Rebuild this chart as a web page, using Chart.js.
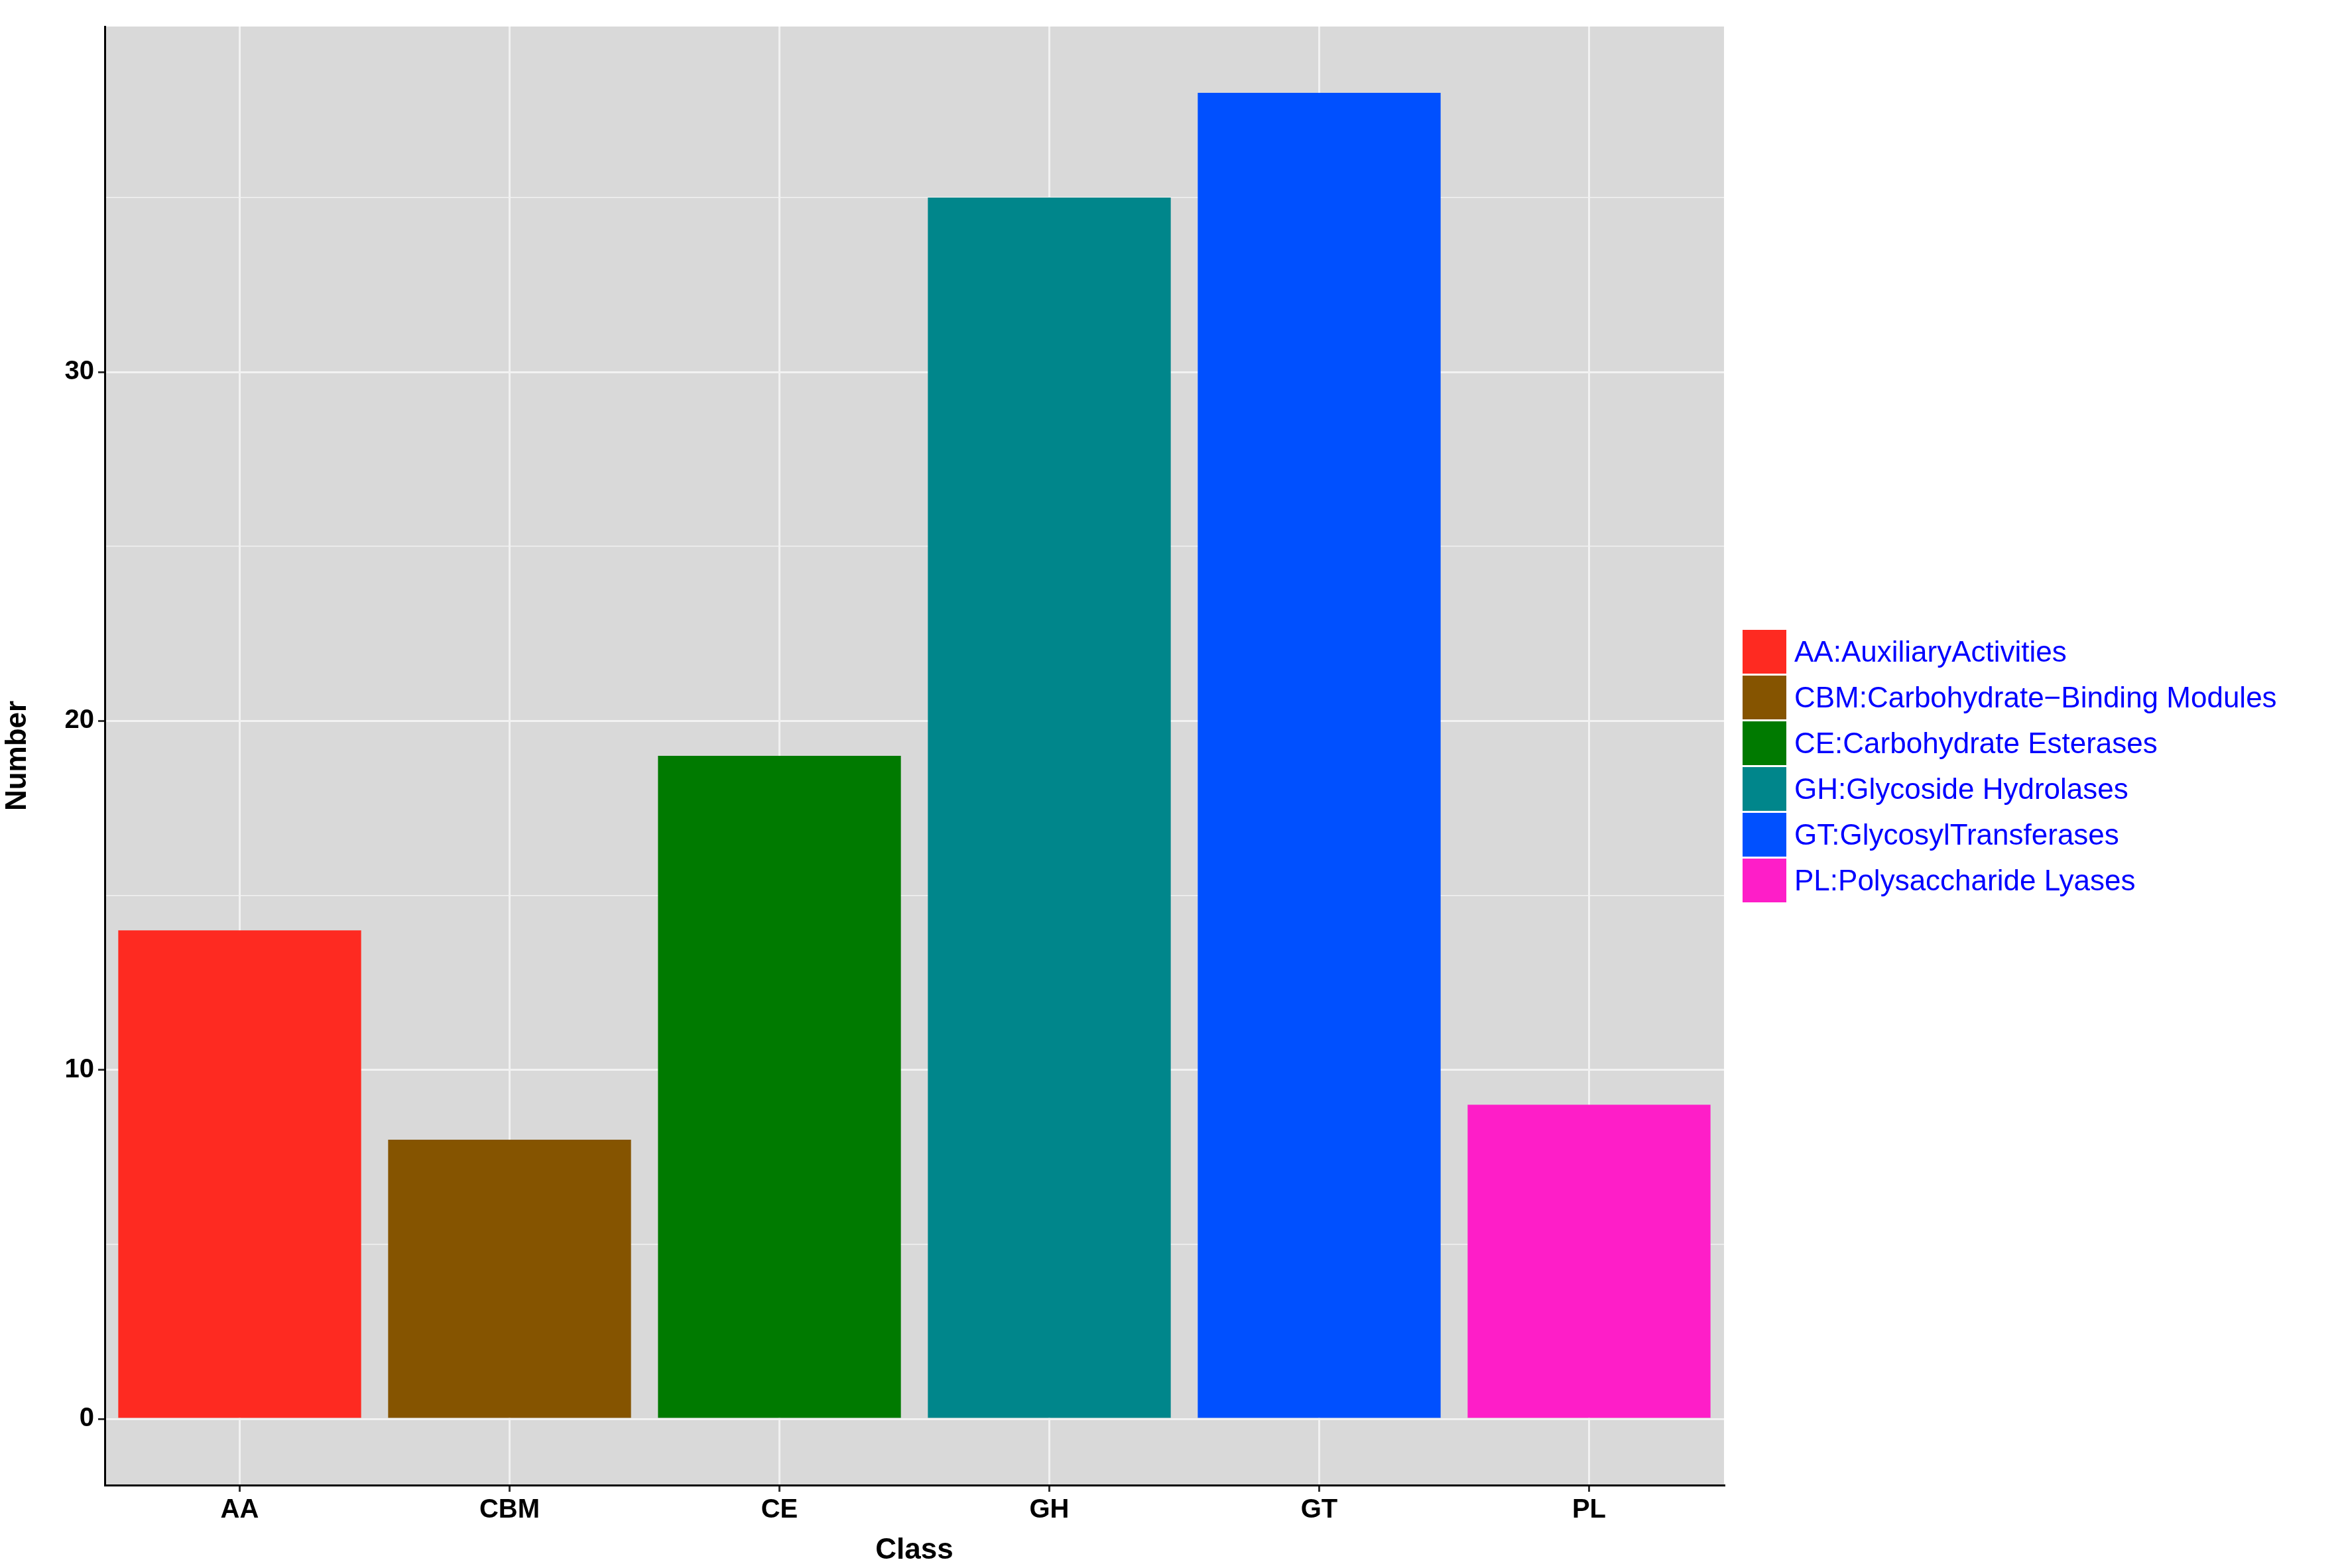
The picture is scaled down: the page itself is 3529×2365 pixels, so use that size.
<!DOCTYPE html>
<html>
<head>
<script src="https://cdn.jsdelivr.net/npm/chart.js@4"></script>
<style>
  body { margin: 0; background: #fff; }
  #wrap { position: relative; width: 3529px; height: 2365px; }
  #legend { position: absolute; left: 2628px; top: 948px; font-family: "Liberation Sans", Arial, sans-serif; font-size: 44px; color: #0000ff; }
  .row { height: 69px; display: flex; align-items: center; }
  .box { width: 66px; height: 66px; margin-right: 12px; }
</style>
</head>
<body>
<div id="wrap">
  <canvas id="c" width="3529" height="2365"></canvas>
  <div id="legend"></div>
</div>
<script>
const classes = ['AA', 'CBM', 'CE', 'GH', 'GT', 'PL'];
const counts = [14, 8, 19, 35, 38, 9];
const legendLabels = ['AA:AuxiliaryActivities', 'CBM:Carbohydrate\u2212Binding Modules', 'CE:Carbohydrate Esterases',
  'GH:Glycoside Hydrolases', 'GT:GlycosylTransferases', 'PL:Polysaccharide Lyases'];
const colors = ['#fe2a21', '#855400', '#007a00', '#00868b', '#0050ff', '#fe1ec8'];
const yTicks = [0, 5, 10, 15, 20, 25, 30, 35];

const legend = document.getElementById('legend');
legendLabels.forEach((t, i) => {
  legend.innerHTML += '<div class="row"><div class="box" style="background:' + colors[i] + '"></div>' + t + '</div>';
});

const panelBg = {
  id: 'panelBg',
  beforeDraw(chart) {
    const a = chart.chartArea, ctx = chart.ctx;
    ctx.save();
    ctx.fillStyle = '#d9d9d9';
    ctx.fillRect(a.left, a.top, a.right - a.left, a.bottom - a.top);
    ctx.restore();
  }
};

const font = { family: '"Liberation Sans", Arial, sans-serif', weight: 'bold', size: 40 };

new Chart(document.getElementById('c'), {
  type: 'bar',
  data: {
    labels: classes,
    datasets: [{ data: counts, backgroundColor: colors, categoryPercentage: 1, barPercentage: 0.9 }]
  },
  options: {
    responsive: false,
    animation: false,
    layout: { padding: { left: 0, right: 929, top: 40, bottom: 0 } },
    plugins: { legend: { display: false }, tooltip: { enabled: false } },
    scales: {
      x: {
        grid: { offset: false, color: '#f2f2f2', lineWidth: 3, drawTicks: true, tickColor: '#333', tickLength: 10 },
        border: { display: true, color: '#000', width: 3 },
        ticks: { color: '#000', font: font, padding: 4 },
        title: { display: true, text: 'Class', color: '#000', font: { ...font, size: 44 }, padding: 0 },
        afterFit(s) { s.height = 125; }
      },
      y: {
        min: -1.9, max: 39.9,
        afterBuildTicks(s) { s.ticks = yTicks.map(v => ({ value: v })); },
        grid: {
          color: '#f2f2f2',
          lineWidth: c => (c.tick && c.tick.value % 10 === 0) ? 3 : 1.5,
          tickColor: c => (c.tick && c.tick.value % 10 === 0) ? '#333' : 'rgba(0,0,0,0)',
          tickLength: 10
        },
        border: { display: true, color: '#000', width: 3 },
        ticks: { color: '#000', font: font, padding: 6, callback: v => v % 10 === 0 ? v : '' },
        title: { display: true, text: 'Number', color: '#000', font: { ...font, size: 44 }, padding: 0 },
        afterFit(s) { s.width = 158; }
      }
    }
  },
  plugins: [panelBg]
});
</script>
</body>
</html>
